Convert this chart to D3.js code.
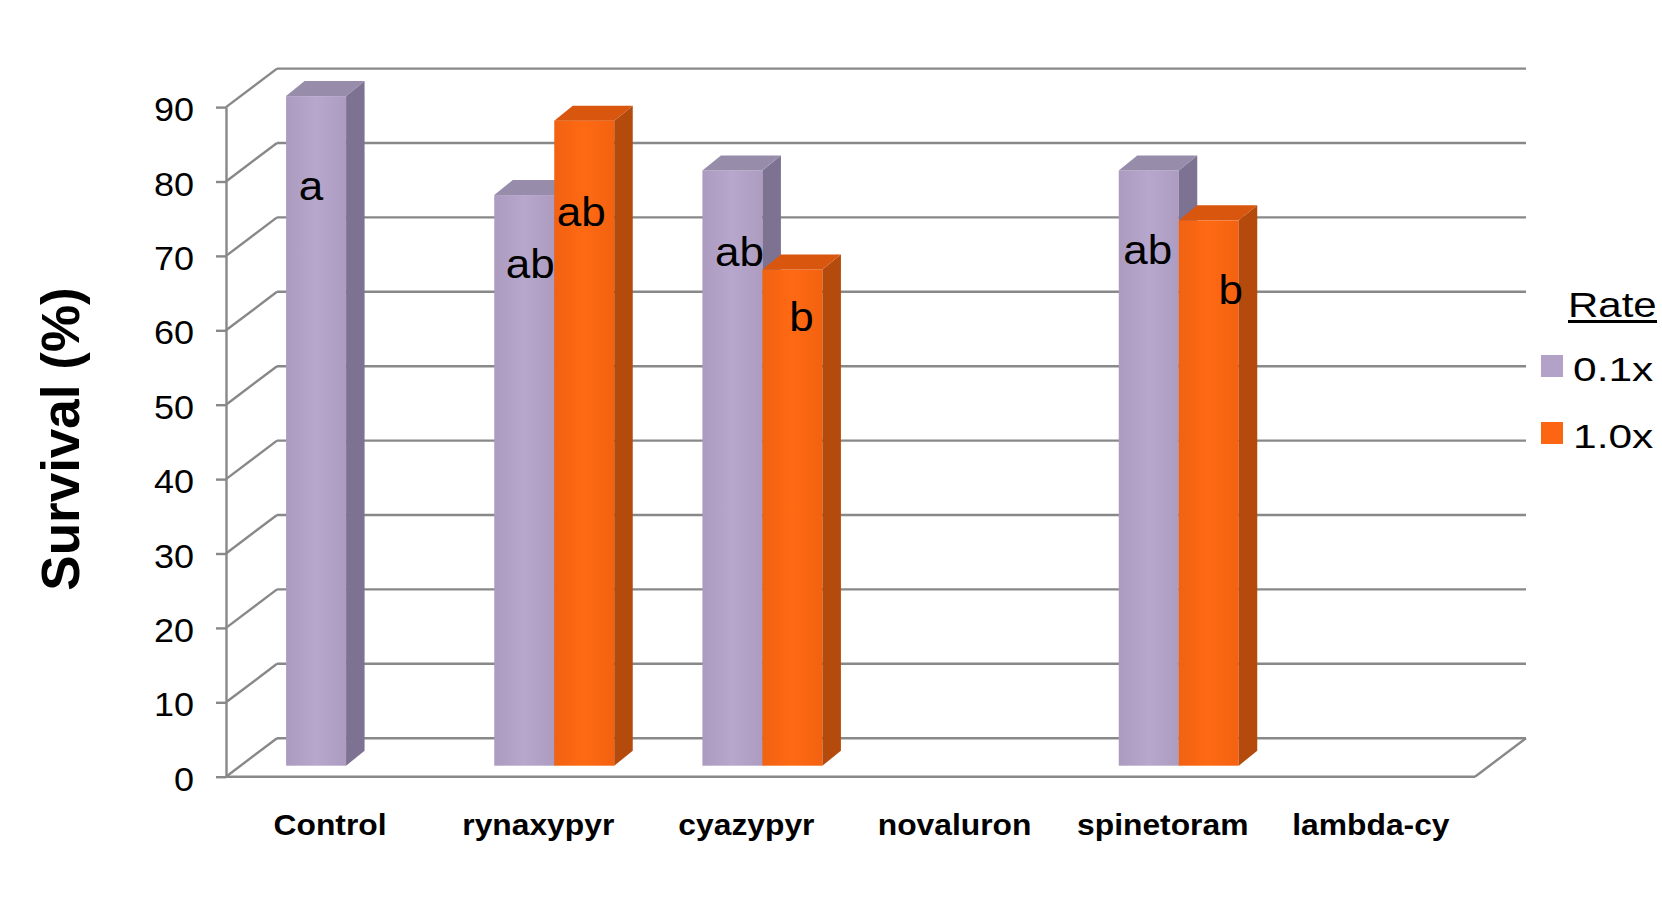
<!DOCTYPE html>
<html>
<head>
<meta charset="utf-8">
<script src="https://cdn.jsdelivr.net/npm/d3@7"></script>
<style>
  body {margin:0; background:white;}
  svg text {font-family:"Liberation Sans", Arial, sans-serif;}
</style>
</head>
<body>
<div id="chart"></div>
<script>
//Chart data
var categories=["Control","rynaxypyr","cyazypyr","novaluron","spinetoram","lambda-cy"];
var rates=["0.1x","1.0x"];
var yTicks=[0,10,20,30,40,50,60,70,80,90];
var survival01=[90,76.7,80,null,80,null];
var survival10=[null,86.7,66.7,null,73.3,null];
//Significance letters and the value where each letter sits
var letters01=["a","ab","ab",null,"ab",null];
var letters10=[null,"ab","b",null,"b",null];
var letterAt01=[76,65.5,67.2,null,67.5,null];
var letterAt10=[null,72.6,58.4,null,62.1,null];

//Set dimensions of svg
var w=1662;
var h=904;

//3D frame: front plane and depth of the back wall
var x0=226, x1=1475;
var wallDx=51, wallDy=-38.5;
//Bars sit a little behind the front plane and have their own depth
var barOffX=16, barOffY=-11;
var barDx=18.5, barDy=-15;
var barW=60;

var gridColor="#888888";
var colors={"0.1x":{front:"#b3a2c7",top:"#988cab",side:"#7e7292"},
            "1.0x":{front:"#fc6612",top:"#d9560e",side:"#b54a0d"}};

//Small hand nudges for some letters (px)
var letterNudge={"Control|0.1x":-5,"rynaxypyr|0.1x":6,"rynaxypyr|1.0x":-3,
                 "cyazypyr|0.1x":7,"cyazypyr|1.0x":9,"spinetoram|0.1x":-1,"spinetoram|1.0x":22};

var rows=[];
categories.forEach(function(c,i) {
    rows.push({cat:c,rate:"0.1x",value:survival01[i],letter:letters01[i],at:letterAt01[i]});
    rows.push({cat:c,rate:"1.0x",value:survival10[i],letter:letters10[i],at:letterAt10[i]});
});

var svg=d3.select("#chart")
          .append("svg")
          .attr("width",w)
          .attr("height",h);

var x=d3.scaleBand().domain(categories).range([x0,x1]);
var bw=x.bandwidth();
var xs=d3.scaleBand().domain(rates).range([bw/2-barW,bw/2+barW]);
var y=d3.scaleLinear().domain([0,90]).range([776.7,107.1]);

//Back wall gridlines and the diagonals on the left side
var grid=svg.append("g").attr("id","grid");
grid.selectAll("line.back")
    .data(yTicks)
    .enter()
    .append("line")
    .attr("class","back")
    .attr("x1",x0+wallDx)
    .attr("x2",x1+wallDx)
    .attr("y1",function(d) {return y(d)+wallDy;})
    .attr("y2",function(d) {return y(d)+wallDy;});
grid.selectAll("line.side")
    .data(yTicks)
    .enter()
    .append("line")
    .attr("class","side")
    .attr("x1",x0)
    .attr("x2",x0+wallDx)
    .attr("y1",function(d) {return y(d);})
    .attr("y2",function(d) {return y(d)+wallDy;});
//Floor: front edge and right diagonal
grid.append("line")
    .attr("x1",x0).attr("x2",x1)
    .attr("y1",y(0)).attr("y2",y(0));
grid.append("line")
    .attr("x1",x1).attr("x2",x1+wallDx)
    .attr("y1",y(0)).attr("y2",y(0)+wallDy);
grid.selectAll("line")
    .style("stroke",gridColor)
    .style("stroke-width",2.4);

//Y axis
var yAxis=svg.append("g")
             .attr("transform","translate("+x0+",0)")
             .call(d3.axisLeft(y).tickValues(yTicks).tickSize(10).tickSizeOuter(0));
yAxis.selectAll("path,line").style("stroke",gridColor).style("stroke-width",2.4);
yAxis.selectAll("text")
     .attr("x",0)
     .attr("dy",null)
     .attr("transform","translate(-32,13.5) scale(1.06,1)")
     .style("font-size","34px")
     .style("fill","black")
     .style("font-family","Liberation Sans, Arial, sans-serif");

//Category labels
var xAxis=svg.append("g")
             .attr("transform","translate(0,"+y(0)+")")
             .call(d3.axisBottom(x).tickSize(0));
xAxis.select(".domain").remove();
xAxis.selectAll("text")
     .attr("y",0)
     .attr("dy",null)
     .attr("transform","translate(0,58) scale(1.06,1)")
     .style("font-size","30px")
     .style("font-weight","bold")
     .style("fill","black")
     .style("font-family","Liberation Sans, Arial, sans-serif");

//Y axis title
svg.append("text")
   .text("Survival (%)")
   .attr("transform","translate(79,439) rotate(-90)")
   .attr("text-anchor","middle")
   .style("font-size","53px")
   .style("font-weight","bold");

//Gradient for the front faces
var defs=svg.append("defs");
rates.forEach(function(r,i) {
    var g=defs.append("linearGradient").attr("id","front"+i);
    var c=d3.color(colors[r].front);
    g.append("stop").attr("offset","0%").attr("stop-color",c.darker(0.12));
    g.append("stop").attr("offset","50%").attr("stop-color",c.brighter(0.08));
    g.append("stop").attr("offset","100%").attr("stop-color",c.darker(0.1));
});

//Bars (drawn left to right so the right bar covers the left bar's side)
var bars=svg.append("g")
            .attr("id","bars")
            .selectAll("g")
            .data(rows.filter(function(d) {return d.value!=null;}))
            .enter()
            .append("g");

function bx(d) {return x(d.cat)+xs(d.rate)+barOffX;}
function yTop(d) {return y(d.value)+barOffY;}
var yBot=y(0)+barOffY;

bars.append("rect")
    .attr("x",bx)
    .attr("y",yTop)
    .attr("width",barW)
    .attr("height",function(d) {return yBot-yTop(d);})
    .style("fill",function(d) {return "url(#front"+rates.indexOf(d.rate)+")";});
bars.append("polygon")
    .attr("points",function(d) {
        var a=bx(d)+barW, t=yTop(d);
        return [[a,t],[a+barDx,t+barDy],[a+barDx,yBot+barDy],[a,yBot]].join(" ");
    })
    .style("fill",function(d) {return colors[d.rate].side;});
bars.append("polygon")
    .attr("points",function(d) {
        var a=bx(d), t=yTop(d);
        return [[a,t],[a+barDx,t+barDy],[a+barW+barDx,t+barDy],[a+barW,t]].join(" ");
    })
    .style("fill",function(d) {return colors[d.rate].top;});

//Letters on the bars
svg.append("g")
   .attr("id","letters")
   .selectAll("text")
   .data(rows.filter(function(d) {return d.letter;}))
   .enter()
   .append("text")
   .text(function(d) {return d.letter;})
   .attr("text-anchor","middle")
   .attr("transform",function(d) {
       var cx=bx(d)+barW/2+(letterNudge[d.cat+"|"+d.rate]||0);
       return "translate("+cx+","+(y(d.at)+barOffY)+") scale(1.1,1)";
   })
   .style("font-size","40px")
   .style("fill","black");

//Legend
var legend=svg.append("g").attr("id","legend");
legend.append("text")
      .text("Rate")
      .attr("transform","translate(1568,316.7) scale(1.2,1)")
      .style("font-size","35px");
legend.append("line")
      .attr("x1",1568).attr("x2",1657)
      .attr("y1",321.5).attr("y2",321.5)
      .style("stroke","black")
      .style("stroke-width",3);
var items=legend.selectAll("g.item")
                .data(rates)
                .enter()
                .append("g")
                .attr("class","item")
                .attr("transform",function(d,i) {return "translate(1541,"+(355+i*67)+")";});
items.append("rect")
     .attr("width",22)
     .attr("height",22)
     .style("fill",function(d) {return colors[d].front;});
items.append("text")
     .text(function(d) {return d;})
     .attr("transform","translate(32,25.5) scale(1.25,1)")
     .style("font-size","34px");
</script>
</body>
</html>
